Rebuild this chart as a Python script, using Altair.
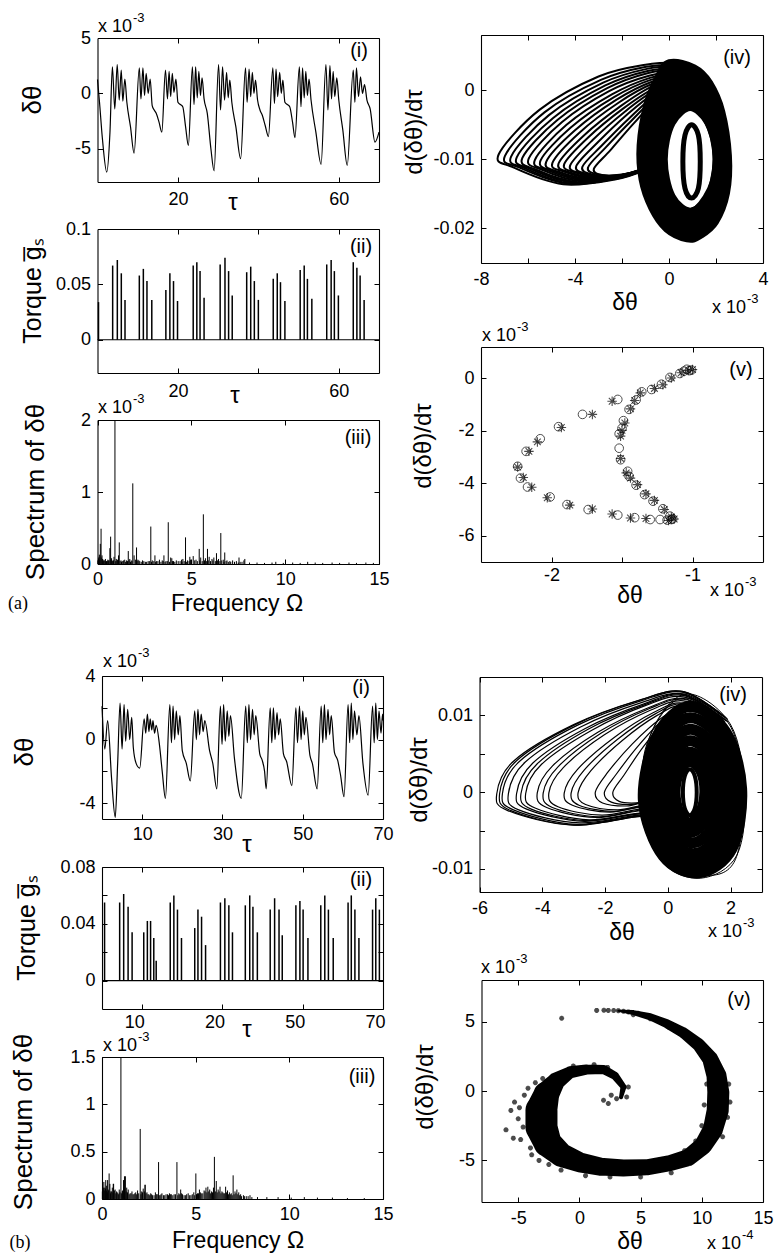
import altair as alt
import pandas as pd

W, H = 774, 1255
SANS = "Liberation Sans"
SERIF = "Liberation Serif"
INK = "#000000"

# ---------------------------------------------------------------- data (a)
# (a)(i)  tau, dtheta (x1e-3)
A_THETA = [
 (0.0,1.25),(0.5,-0.8),(1.2,-4.0),(2.3,-7.1),(3.1,-3.5),(3.7,2.4),(4.3,-1.4),(4.9,2.6),(5.4,-0.6),(5.9,2.1),(6.3,-0.7),(6.8,1.3),(7.3,-0.8),(8.2,-3.0),(9.1,-5.4),
 (10.4,2.3),(10.8,-0.5),(11.3,2.3),(11.7,-0.2),(12.1,1.8),(12.6,0.0),(13.1,1.3),(13.6,-1.1),(14.1,-1.5),(14.6,-1.8),(15.3,-2.6),(16.0,-3.5),
 (16.9,2.1),(17.4,-0.5),(17.8,2.0),(18.2,-0.3),(18.6,1.8),(19.0,0.1),(19.5,1.3),(20.0,-0.8),(20.6,-1.0),(21.2,-1.2),(21.9,-3.0),(22.6,-4.7),
 (23.6,2.4),(24.0,-1.0),(24.4,2.4),(24.8,-0.4),(25.2,2.0),(25.6,-0.2),(26.0,1.4),(26.5,-0.5),(27.3,-1.8),(28.2,-5.0),(29.0,-7.0),
 (30.1,2.6),(30.6,-1.5),(31.1,2.4),(31.6,-0.6),(32.1,1.9),(32.5,-0.4),(32.9,1.2),(33.4,-0.8),(34.4,-3.0),(35.6,-5.9),
 (36.8,2.3),(37.2,-0.8),(37.7,2.2),(38.1,-0.3),(38.5,1.9),(38.9,0.0),(39.3,1.2),(39.8,-0.6),(40.4,-1.5),(41.0,-2.0),(41.7,-2.9),(42.5,-3.9),
 (43.6,2.3),(44.0,-0.9),(44.4,2.2),(44.8,-0.3),(45.3,1.9),(45.7,0.0),(46.1,1.2),(46.6,-0.8),(47.2,-1.0),(47.8,-1.2),(48.5,-2.6),(49.1,-4.0),
 (50.2,2.4),(50.6,-1.2),(51.0,2.3),(51.4,-0.4),(51.8,2.0),(52.2,-0.2),(52.6,1.3),(53.1,-0.6),(54.3,-3.5),(55.6,-6.4),
 (56.8,2.6),(57.3,-1.5),(57.8,2.5),(58.2,-0.5),(58.6,2.0),(59.0,-0.3),(59.5,1.4),(60.0,-0.6),(61.0,-3.3),(62.1,-6.5),
 (63.6,2.1),(64.0,-0.8),(64.4,2.3),(64.9,-0.3),(65.4,1.5),(65.9,0.0),(66.4,0.8),(67.0,-0.6),(67.8,-1.4),(69.0,-4.4),(70.0,-3.5),
]
# (a)(ii) torque spikes: tau, height
A_TORQUE = [
 (0.25,0.034),(3.77,0.067),(4.93,0.072),(5.92,0.060),(6.84,0.036),(10.4,0.058),(11.4,0.064),(12.3,0.053),(13.5,0.036),
 (17.0,0.045),(18.0,0.060),(18.9,0.053),(19.9,0.035),(23.8,0.067),(24.7,0.070),(25.5,0.062),(26.5,0.038),
 (30.5,0.068),(31.7,0.074),(32.6,0.062),(33.5,0.040),(37.1,0.061),(38.1,0.066),(39.0,0.053),(40.0,0.036),
 (43.7,0.055),(44.7,0.060),(45.5,0.052),(46.6,0.035),(50.4,0.063),(51.4,0.067),(52.2,0.055),(53.3,0.037),
 (57.0,0.068),(58.1,0.072),(58.9,0.062),(59.9,0.040),(63.6,0.070),(64.5,0.065),(65.3,0.058),(66.3,0.036),
]
TORQUE_BASE = [(0, 0.0), (70, 0.0)]
# (a)(iii) spectrum: Omega, amplitude (x1e-3)
A_SPEC_PEAKS = [(0.19,0.49),(0.70,0.38),(0.93,2.0),(1.16,0.30),(1.64,0.18),(1.88,1.12),(2.08,0.23),(2.84,0.52),(3.06,0.12),
 (3.54,0.12),(3.77,0.58),(3.96,0.08),(4.48,0.06),(4.69,0.37),(4.92,0.10),(5.42,0.21),(5.64,0.69),(5.86,0.21),(6.34,0.15),
 (6.57,0.43),(6.78,0.16),(7.54,0.09),(7.80,0.05)]
A_SPEC_GRASS = [(0.05,0.08),(0.1,0.13),(0.15,0.28),(0.24,0.12),(0.3,0.06),(0.35,0.05),(0.42,0.07),(0.48,0.04),(0.55,0.06),
 (0.62,0.05),(0.66,0.22),(0.75,0.08),(0.82,0.05),(0.88,0.10),(1.0,0.07),(1.07,0.06),(1.12,0.12),(1.25,0.05),(1.32,0.04),
 (1.45,0.06),(1.55,0.05),(1.72,0.07),(1.8,0.05),(1.95,0.12),(2.15,0.06),(2.25,0.04),(2.4,0.05),(2.55,0.03),(2.7,0.04),
 (2.92,0.05),(3.15,0.04),(3.3,0.06),(3.45,0.05),(3.65,0.04),(3.9,0.09),(4.05,0.04),(4.2,0.05),(4.4,0.04),(4.55,0.07),
 (4.8,0.05),(4.95,0.06),(5.1,0.11),(5.25,0.06),(5.5,0.09),(5.75,0.08),(5.95,0.10),(6.1,0.07),(6.2,0.09),(6.45,0.07),
 (6.7,0.06),(6.9,0.05),(7.05,0.04),(7.2,0.05),(7.4,0.04),(7.7,0.03),(7.85,0.07),(8.1,0.02),(8.5,0.02),(8.9,0.015),
 (9.3,0.02),(9.5,0.03),(9.9,0.015),(10.4,0.02),(10.8,0.015),(11.2,0.03),(11.6,0.02),(12.0,0.015),(12.5,0.02),(12.9,0.015),
 (13.4,0.02),(13.8,0.015),(14.3,0.02),(14.7,0.015)]
A_SPEC_FLOOR = [(0.02,0.05),(0.08,0.10),(0.12,0.06),(0.2,0.09),(0.27,0.07),(0.33,0.04),(0.39,0.05),(0.45,0.03),(0.52,0.04),
 (0.58,0.05),(0.72,0.06),(0.79,0.04),(0.85,0.05),(0.97,0.04),(1.04,0.05),(1.2,0.04),(1.28,0.03),(1.38,0.05),(1.5,0.03),
 (1.6,0.04),(1.68,0.05),(1.76,0.03),(1.84,0.04),(2.02,0.06),(2.11,0.04),(2.2,0.05),(2.33,0.03),(2.47,0.04),(2.62,0.03),
 (2.78,0.04),(2.88,0.03),(3.0,0.04),(3.1,0.03),(3.22,0.04),(3.38,0.03),(3.5,0.04),(3.6,0.03),(3.72,0.04),(3.84,0.03),
 (4.0,0.04),(4.12,0.03),(4.3,0.04),(4.5,0.03),(4.62,0.04),(4.75,0.03),(4.88,0.04),(5.0,0.03),(5.18,0.05),(5.32,0.04),
 (5.45,0.05),(5.58,0.04),(5.7,0.05),(5.8,0.04),(5.9,0.05),(6.02,0.04),(6.15,0.05),(6.28,0.04),(6.4,0.05),(6.52,0.04),
 (6.62,0.05),(6.74,0.03),(6.85,0.04),(6.97,0.03),(7.1,0.03),(7.3,0.03),(7.5,0.02),(7.6,0.03)]
# (a)(iv) phase portrait: dtheta (x1e-3), d(dtheta)/dtau
A_LOBE = [
 [(0.5,0.0000),(-0.5,-0.0013),(-1.5,-0.0048),(-2.5,-0.0087),(-3.2,-0.0114),(-2.8,-0.0123),(-2.0,-0.0122),(-1.3,-0.0116),(-0.8,-0.0108)],
 [(0.5,0.0003),(-0.53,-0.0010),(-1.6,-0.0044),(-2.7,-0.0083),(-3.45,-0.0112),(-3.0,-0.0122),(-2.15,-0.0123),(-1.36,-0.0117),(-0.81,-0.0108)],
 [(0.5,0.0005),(-0.56,-0.0007),(-1.68,-0.0040),(-2.86,-0.0080),(-3.69,-0.0111),(-3.26,-0.0122),(-2.3,-0.0124),(-1.42,-0.0118),(-0.82,-0.0109)],
 [(0.5,0.0008),(-0.6,-0.0004),(-1.78,-0.0035),(-3.05,-0.0076),(-3.95,-0.0110),(-3.5,-0.0121),(-2.47,-0.0125),(-1.49,-0.0118),(-0.84,-0.0109)],
 [(0.5,0.0010),(-0.63,-0.0001),(-1.88,-0.0031),(-3.25,-0.0072),(-4.21,-0.0109),(-3.75,-0.0120),(-2.63,-0.0126),(-1.55,-0.0119),(-0.85,-0.0110)],
 [(0.5,0.0012),(-0.66,0.0002),(-1.97,-0.0027),(-3.43,-0.0068),(-4.46,-0.0107),(-3.98,-0.0119),(-2.78,-0.0126),(-1.61,-0.0120),(-0.86,-0.0110)],
 [(0.5,0.0015),(-0.69,0.0006),(-2.06,-0.0023),(-3.61,-0.0065),(-4.70,-0.0106),(-4.21,-0.0119),(-2.93,-0.0127),(-1.67,-0.0121),(-0.87,-0.0111)],
 [(0.5,0.0017),(-0.72,0.0009),(-2.15,-0.0018),(-3.8,-0.0061),(-4.96,-0.0105),(-4.45,-0.0118),(-3.09,-0.0128),(-1.73,-0.0122),(-0.88,-0.0111)],
 [(0.5,0.0020),(-0.75,0.0012),(-2.25,-0.0014),(-4.00,-0.0058),(-5.23,-0.0104),(-4.70,-0.0118),(-3.25,-0.0129),(-1.80,-0.0123),(-0.90,-0.0112)],
 [(0.5,0.0022),(-0.78,0.0015),(-2.34,-0.0010),(-4.18,-0.0054),(-5.47,-0.0102),(-4.93,-0.0117),(-3.4,-0.0130),(-1.86,-0.0123),(-0.91,-0.0112)],
 [(0.5,0.0025),(-0.81,0.0018),(-2.43,-0.0006),(-4.36,-0.0050),(-5.71,-0.0101),(-5.16,-0.0116),(-3.55,-0.0131),(-1.92,-0.0124),(-0.92,-0.0112)],
 [(0.5,0.0027),(-0.85,0.0021),(-2.53,-0.0001),(-4.55,-0.0046),(-5.97,-0.0099),(-5.4,-0.0115),(-3.71,-0.0132),(-1.98,-0.0125),(-0.93,-0.0112)],
 [(0.5,0.0030),(-0.88,0.0025),(-2.63,0.0003),(-4.75,-0.0043),(-6.24,-0.0098),(-5.65,-0.0115),(-3.88,-0.0133),(-2.05,-0.0126),(-0.95,-0.0113)],
 [(0.5,0.0032),(-0.91,0.0028),(-2.71,0.0007),(-4.93,-0.0040),(-6.48,-0.0097),(-5.88,-0.0114),(-4.03,-0.0134),(-2.11,-0.0126),(-0.96,-0.0113)],
 [(0.5,0.0035),(-0.94,0.0031),(-2.80,0.0011),(-5.11,-0.0036),(-6.72,-0.0096),(-6.11,-0.0113),(-4.18,-0.0135),(-2.17,-0.0127),(-0.97,-0.0114)],
 [(0.5,0.0037),(-0.97,0.0034),(-2.9,0.0015),(-5.3,-0.0032),(-6.98,-0.0095),(-6.35,-0.0112),(-4.34,-0.0135),(-2.23,-0.0128),(-0.98,-0.0114)],
 [(0.5,0.0040),(-1.00,0.0037),(-3.00,0.0020),(-5.50,-0.0028),(-7.25,-0.0093),(-6.60,-0.0112),(-4.50,-0.0136),(-2.30,-0.0129),(-1.00,-0.0115)],
]
A_RING = [
 [(0.06,0.0035),(1.0,0.0028),(1.6,0.0008),(2.1,-0.0032),(2.38,-0.0095),(2.3,-0.0148),(1.85,-0.0188),(1.25,-0.0206),(0.8,-0.0210),
  (0.0,-0.0197),(-0.6,-0.0168),(-1.0,-0.0128),(-1.08,-0.0080),(-0.8,-0.0022),(-0.35,0.0015)],
 [(0.3,0.0018),(1.2,0.0010),(1.8,-0.0015),(2.25,-0.0070),(2.3,-0.0125),(1.95,-0.0175),(1.2,-0.0200),(0.4,-0.0193),(-0.3,-0.0160),
  (-0.85,-0.0110),(-0.95,-0.0065),(-0.6,-0.0015)],
 [(0.5,0.0005),(1.4,-0.0012),(2.1,-0.0065),(2.2,-0.0118),(1.85,-0.0165),(1.0,-0.0192),(0.2,-0.0182),(-0.5,-0.0140),(-0.68,-0.0090),(-0.4,-0.0035)],
 [(0.7,-0.0012),(1.55,-0.0030),(2.12,-0.0080),(2.02,-0.0135),(1.3,-0.0175),(0.6,-0.0180),(-0.1,-0.0160),(-0.45,-0.0110),(-0.35,-0.0060),(0.1,-0.0025)],
 [(0.9,-0.0020),(1.8,-0.0045),(2.15,-0.0100),(1.8,-0.0156),(0.9,-0.0180),(0.0,-0.0156),(-0.35,-0.0100),(0.0,-0.0045)],
]
A_CORE = [[(0.96,-0.0050),(1.25,-0.0065),(1.33,-0.0103),(1.25,-0.0142),(0.96,-0.0156),(0.68,-0.0142),(0.59,-0.0103),(0.68,-0.0065)]]
# (a)(v) section points: dtheta (x1e-3), d(dtheta)/dtau (x1e-3)
A_V_CIRC = [(-1.007,0.32),(-1.04,0.35),(-1.02,0.30),(-1.06,0.28),(-1.09,0.19),(-1.16,0.04),(-1.22,-0.22),(-1.29,-0.42),(-1.36,-0.51),
 (-1.40,-0.82),(-1.45,-1.18),(-1.49,-1.61),(-1.50,-1.90),(-1.52,-2.11),(-1.52,-2.66),(-1.51,-3.10),(-1.46,-3.54),(-1.45,-3.73),
 (-1.40,-4.07),(-1.34,-4.43),(-1.28,-4.68),(-1.21,-4.97),(-1.16,-5.25),(-1.14,-5.35),(-1.15,-5.38),(-1.18,-5.40),(-1.23,-5.38),
 (-1.30,-5.38),(-1.41,-5.31),(-1.53,-5.21),(-1.74,-5.00),(-1.89,-4.81),(-2.01,-4.52),(-2.17,-4.14),(-2.22,-3.80),(-2.24,-3.35),
 (-2.18,-2.78),(-2.08,-2.30),(-1.95,-1.84),(-1.78,-1.37),(-1.53,-0.80)]
A_V_STAR = [(-1.00,0.34),(-1.03,0.30),(-1.08,0.22),(-1.15,0.02),(-1.21,-0.24),(-1.27,-0.38),(-1.37,-0.55),(-1.41,-0.84),(-1.44,-1.16),
 (-1.48,-1.70),(-1.50,-1.98),(-1.51,-2.20),(-1.51,-3.05),(-1.47,-3.60),(-1.44,-3.80),(-1.39,-4.05),(-1.33,-4.40),(-1.27,-4.65),
 (-1.20,-5.00),(-1.15,-5.28),(-1.13,-5.36),(-1.17,-5.42),(-1.33,-5.34),(-1.44,-5.32),(-1.57,-5.17),(-1.71,-4.98),(-1.87,-4.83),
 (-2.03,-4.55),(-2.14,-4.15),(-2.20,-3.78),(-2.24,-3.38),(-2.16,-2.78),(-2.10,-2.42),(-1.93,-1.87),(-1.71,-1.37),(-1.57,-0.87)]

# ---------------------------------------------------------------- data (b)
B_THETA = [
 (0.0,2.1),(0.7,-0.6),(1.4,1.2),(2.4,-2.5),(3.3,-4.9),(3.9,-1.5),
 (4.5,2.3),(5.0,-0.6),(5.5,2.2),(5.9,-0.1),(6.4,1.9),(6.9,0.0),(7.4,1.4),(7.8,-0.5),(8.5,-1.5),(9.4,-1.8),
 (10.5,1.3),(10.9,0.4),(11.3,1.6),(11.7,0.5),(12.0,1.3),(12.4,0.6),(12.7,1.2),(13.1,0.4),(13.5,0.9),(14.3,-0.3),(15.0,-2.0),(15.8,-3.7),
 (16.9,2.2),(17.3,-0.2),(17.7,2.1),(18.1,0.0),(18.5,1.8),(19.0,0.3),(19.4,1.5),(20.0,-0.7),(21.0,-1.5),(22.0,-2.6),
 (23.1,1.8),(23.5,0.0),(23.9,1.9),(24.3,0.3),(24.7,1.6),(25.2,0.5),(25.6,1.2),(26.8,-0.7),(27.6,-1.5),(28.6,-3.1),
 (29.5,2.1),(29.9,-0.3),(30.3,2.2),(30.7,-0.1),(31.2,1.8),(31.6,0.2),(32.0,1.5),(33.0,-1.2),(34.7,-3.7),
 (35.8,2.1),(36.2,-0.2),(36.6,2.2),(37.0,0.0),(37.5,1.9),(37.9,0.3),(38.3,1.5),(39.3,-0.9),(39.9,-1.3),(40.5,-2.0),(40.9,-3.1),
 (41.9,2.0),(42.3,-0.2),(42.7,2.0),(43.1,0.0),(43.6,1.7),(44.0,0.3),(44.4,1.3),(45.2,-0.9),(46.0,-1.4),(47.3,-2.9),
 (48.3,2.0),(48.7,-0.2),(49.2,2.1),(49.6,0.0),(50.0,1.8),(50.4,0.3),(50.8,1.4),(51.8,-1.0),(52.4,-1.5),(53.6,-3.1),
 (54.6,2.1),(55.0,-0.2),(55.4,2.2),(55.8,0.0),(56.3,1.9),(56.7,0.3),(57.1,1.5),(57.9,-0.8),(58.7,-1.3),(59.4,-2.2),(60.3,-3.6),
 (61.3,2.2),(61.7,-0.2),(62.1,2.3),(62.5,0.0),(62.9,1.8),(63.5,0.3),(64.0,1.5),(65.0,-1.5),(66.3,-3.5),
 (67.4,2.1),(67.8,-0.2),(68.2,2.3),(68.6,0.0),(69.0,1.8),(69.5,0.4),(69.9,1.6),(70.0,1.2),
]
B_TORQUE = [
 (0.64,0.055),(4.4,0.055),(5.4,0.061),(6.5,0.052),(7.5,0.034),(10.4,0.034),(11.3,0.042),(12.1,0.042),(12.9,0.030),(13.5,0.014),
 (17.0,0.055),(17.9,0.060),(18.8,0.050),(19.8,0.030),(23.1,0.037),(23.9,0.050),(24.8,0.045),(25.8,0.025),
 (29.5,0.055),(30.6,0.058),(31.6,0.053),(32.5,0.034),(35.7,0.053),(36.8,0.060),(37.6,0.052),(38.7,0.034),
 (41.9,0.050),(43.0,0.058),(44.1,0.050),(44.9,0.032),(48.3,0.053),(49.3,0.056),(50.1,0.050),(51.3,0.030),
 (54.5,0.053),(55.5,0.060),(56.4,0.050),(57.6,0.030),(61.3,0.055),(62.1,0.060),(63.0,0.050),(64.0,0.030),
 (67.4,0.050),(68.2,0.058),(69.1,0.050),
]
B_SPEC_PEAKS = [(0.30,0.20),(0.38,0.27),(0.60,0.16),(1.01,1.5),(1.20,0.24),(2.04,0.74),(2.30,0.15),(3.02,0.39),(4.00,0.39),
 (5.01,0.27),(6.00,0.445),(6.60,0.13),(7.00,0.25)]
B_SPEC_GRASS = [(0.05,0.1),(0.1,0.18),(0.15,0.12),(0.2,0.2),(0.25,0.14),(0.33,0.1),(0.42,0.16),(0.47,0.08),(0.55,0.12),(0.62,0.16),
 (0.7,0.1),(0.78,0.08),(0.85,0.06),(0.92,0.1),(1.08,0.08),(1.15,0.2),(1.25,0.24),(1.32,0.12),(1.4,0.1),(1.5,0.06),(1.6,0.08),
 (1.7,0.05),(1.8,0.07),(1.9,0.09),(2.12,0.08),(2.2,0.11),(2.3,0.15),(2.4,0.07),(2.5,0.05),(2.6,0.06),(2.7,0.04),(2.85,0.07),
 (2.95,0.05),(3.1,0.04),(3.2,0.06),(3.35,0.04),(3.5,0.05),(3.6,0.06),(3.7,0.05),(3.85,0.05),(4.1,0.06),(4.2,0.1),(4.3,0.05),
 (4.45,0.04),(4.6,0.06),(4.75,0.04),(4.9,0.07),(5.1,0.06),(5.2,0.1),(5.3,0.06),(5.45,0.09),(5.55,0.12),(5.65,0.13),(5.75,0.1),
 (5.85,0.08),(5.95,0.12),(6.1,0.19),(6.2,0.1),(6.3,0.13),(6.4,0.08),(6.5,0.06),(6.7,0.09),(6.8,0.07),(6.9,0.06),(7.1,0.08),
 (7.2,0.1),(7.3,0.07),(7.4,0.05),(7.55,0.04),(7.7,0.03),(7.9,0.04),(8.3,0.02),(8.8,0.02),(9.4,0.02),(10.1,0.015),(10.8,0.02),
 (11.5,0.015),(12.3,0.015),(13.1,0.01),(14.0,0.01)]
B_SPEC_FLOOR = [(0.02,0.08),(0.07,0.12),(0.12,0.09),(0.18,0.11),(0.23,0.09),(0.28,0.07),(0.36,0.09),(0.45,0.06),(0.5,0.08),
 (0.58,0.07),(0.66,0.09),(0.74,0.06),(0.81,0.07),(0.89,0.05),(0.96,0.07),(1.05,0.06),(1.1,0.09),(1.18,0.11),(1.29,0.08),
 (1.36,0.07),(1.45,0.05),(1.55,0.06),(1.65,0.05),(1.75,0.06),(1.85,0.05),(1.96,0.06),(2.08,0.05),(2.16,0.07),(2.26,0.08),
 (2.35,0.06),(2.45,0.05),(2.55,0.04),(2.65,0.05),(2.78,0.04),(2.9,0.05),(3.05,0.04),(3.15,0.05),(3.28,0.04),(3.42,0.05),
 (3.55,0.04),(3.65,0.05),(3.78,0.04),(3.92,0.05),(4.05,0.04),(4.15,0.05),(4.25,0.06),(4.38,0.04),(4.52,0.05),(4.68,0.04),
 (4.82,0.05),(4.95,0.04),(5.05,0.05),(5.15,0.06),(5.25,0.07),(5.38,0.06),(5.5,0.08),(5.6,0.07),(5.7,0.08),(5.8,0.06),
 (5.9,0.07),(6.05,0.08),(6.15,0.07),(6.25,0.08),(6.35,0.06),(6.45,0.07),(6.55,0.06),(6.65,0.07),(6.75,0.05),(6.85,0.05),
 (6.95,0.04),(7.05,0.05),(7.15,0.06),(7.25,0.05),(7.35,0.04),(7.45,0.03),(7.6,0.03),(7.8,0.03),(8.0,0.02)]
B_LOBE = [
 [(1.5,0.0100),(0.5,0.0105),(-0.1,0.0092),(-0.8,0.0058),(-1.4,0.0022),(-1.75,0.0000),(-1.55,-0.0012),(-1.0,-0.0014),(-0.4,-0.0010),(0.3,-0.0040)],
 [(1.55,0.0099),(0.5,0.0107),(-0.16,0.0094),(-0.95,0.0060),(-1.65,0.0023),(-2.02,0.0000),(-1.8,-0.0013),(-1.15,-0.0016),(-0.4,-0.0011),(0.32,-0.0042)],
 [(1.6,0.0098),(0.5,0.0109),(-0.22,0.0096),(-1.13,0.0063),(-1.93,0.0025),(-2.31,0.0000),(-2.08,-0.0014),(-1.3,-0.0018),(-0.4,-0.0013),(0.35,-0.0045)],
 [(1.7,0.0095),(0.5,0.0113),(-0.34,0.0100),(-1.46,0.0067),(-2.45,0.0028),(-2.86,-0.0001),(-2.62,-0.0016),(-1.6,-0.0023),(-0.4,-0.0017),(0.4,-0.0050)],
 [(1.75,0.0094),(0.5,0.0115),(-0.4,0.0102),(-1.6,0.0069),(-2.66,0.0029),(-3.08,-0.0001),(-2.83,-0.0017),(-1.72,-0.0025),(-0.4,-0.0018),(0.42,-0.0052)],
 [(1.8,0.0092),(0.5,0.0116),(-0.44,0.0104),(-1.72,0.0071),(-2.87,0.0030),(-3.30,-0.0001),(-3.04,-0.0017),(-1.84,-0.0026),(-0.4,-0.0019),(0.45,-0.0055)],
 [(1.6,0.0100),(0.5,0.0119),(-0.54,0.0107),(-2.01,0.0075),(-3.33,0.0032),(-3.79,-0.0001),(-3.50,-0.0019),(-2.10,-0.0030),(-0.4,-0.0022),(0.3,-0.0060)],
 [(1.65,0.0099),(0.5,0.0121),(-0.58,0.0109),(-2.12,0.0077),(-3.5,0.0033),(-3.97,-0.0001),(-3.68,-0.0020),(-2.2,-0.0032),(-0.4,-0.0023),(0.33,-0.0061)],
 [(1.7,0.0098),(0.5,0.0122),(-0.62,0.0110),(-2.23,0.0078),(-3.68,0.0034),(-4.16,-0.0001),(-3.86,-0.0020),(-2.30,-0.0033),(-0.4,-0.0024),(0.35,-0.0062)],
 [(1.8,0.0095),(0.5,0.0124),(-0.70,0.0113),(-2.45,0.0080),(-4.03,0.0036),(-4.53,-0.0002),(-4.21,-0.0021),(-2.50,-0.0036),(-0.4,-0.0027),(0.4,-0.0065)],
 [(1.85,0.0093),(0.5,0.0126),(-0.73,0.0114),(-2.54,0.0082),(-4.16,0.0037),(-4.68,-0.0002),(-4.35,-0.0022),(-2.58,-0.0037),(-0.4,-0.0028),(0.42,-0.0066)],
 [(1.9,0.0092),(0.5,0.0127),(-0.76,0.0115),(-2.63,0.0083),(-4.30,0.0038),(-4.82,-0.0002),(-4.50,-0.0022),(-2.66,-0.0038),(-0.4,-0.0028),(0.45,-0.0068)],
 [(1.7,0.0100),(0.5,0.0128),(-0.82,0.0117),(-2.78,0.0085),(-4.55,0.0039),(-5.08,-0.0002),(-4.75,-0.0023),(-2.80,-0.0040),(-0.4,-0.0030),(0.5,-0.0070)],
 [(1.8,0.0098),(0.5,0.0130),(-0.86,0.0119),(-2.89,0.0087),(-4.73,0.0040),(-5.27,-0.0002),(-4.92,-0.0023),(-2.90,-0.0042),(-0.4,-0.0031),(0.4,-0.0072)],
 [(1.85,0.0097),(0.5,0.0131),(-0.88,0.0120),(-2.95,0.0088),(-4.82,0.0041),(-5.36,-0.0002),(-5.0,-0.0024),(-2.95,-0.0043),(-0.4,-0.0032),(0.42,-0.0074)],
 [(1.9,0.0095),(0.5,0.0131),(-0.90,0.0120),(-3.00,0.0088),(-4.90,0.0041),(-5.45,-0.0002),(-5.10,-0.0024),(-3.00,-0.0043),(-0.4,-0.0032),(0.45,-0.0075)],
]
B_RING = [
 [(0.7,0.0112),(1.85,0.0078),(2.35,0.0005),(2.05,-0.0073),(1.0,-0.0105),(-0.15,-0.0083),(-0.78,-0.0010),(-0.35,0.0073)],
 [(0.7,0.0097),(1.7,0.0068),(2.15,0.0003),(1.85,-0.0064),(0.9,-0.0093),(-0.05,-0.0072),(-0.55,-0.0005),(-0.2,0.0064)],
 [(0.7,0.0082),(1.52,0.0057),(1.9,0.0002),(1.62,-0.0055),(0.85,-0.0080),(0.05,-0.0060),(-0.33,0.0000),(-0.05,0.0054)],
 [(0.7,0.0067),(1.35,0.0047),(1.65,0.0000),(1.42,-0.0046),(0.8,-0.0066),(0.18,-0.0048),(-0.1,0.0000),(0.12,0.0045)],
 [(0.7,0.0052),(1.2,0.0036),(1.42,0.0000),(1.2,-0.0036),(0.74,-0.0052),(0.27,-0.0037),(0.06,0.0000),(0.24,0.0036)],
 [(0.7,0.0040),(1.05,0.0028),(1.18,0.0000),(1.03,-0.0027),(0.7,-0.0040),(0.38,-0.0028),(0.23,0.0000),(0.38,0.0028)],
]
B_CORE = [[(0.7,0.0030),(0.86,0.0021),(0.92,0.0000),(0.86,-0.0021),(0.7,-0.0030),(0.54,-0.0021),(0.48,0.0000),(0.54,0.0021)]]
B_EDGE = [[(0.6,0.0128),(2.0,0.0088),(2.45,0.0000),(2.2,-0.0082),(1.05,-0.0112),(-0.2,-0.0090),(-0.9,-0.0015),(-0.5,0.0080)],
          [(0.4,0.0122),(1.9,0.0092),(2.4,0.0010),(2.15,-0.0088),(1.1,-0.0108),(-0.3,-0.0080),(-0.8,0.0005),(-0.6,0.0070)]]
# (b)(v) dense section: backbone (dtheta x1e-4, rate x1e-3, band width px) and loose points
B_V_BAND = [(3.18,5.78,2),(4.41,5.65,5),(5.78,5.35,7),(7.14,4.85,9),(8.5,4.2,11),(9.73,3.35,13),(10.69,2.3,16),(11.2,1.1,20),
 (11.35,-0.1,22),(11.3,-1.4,22),(10.9,-2.8,20),(10.1,-3.95,18),(8.9,-4.8,17),(7.4,-5.2,16),(5.5,-5.5,16),(3.6,-5.55,17),
 (1.7,-5.45,18),(0.06,-5.15,20),(-1.5,-4.6,24),(-2.6,-3.75,28),(-3.1,-2.6,32),(-3.1,-1.4,32),(-2.7,-0.25,26),(-1.9,0.7,18),
 (-0.75,1.35,12),(0.6,1.55,10),(1.97,1.55,9),(2.9,1.1,8),(3.6,0.3,6),(3.4,-0.45,4)]
B_V_STARS = [(-1.45,5.24),(1.41,5.81),(2.0,5.82),(2.36,5.81),(2.8,5.8),(3.18,5.79),(3.6,5.75),(4.0,5.7),(4.4,5.5),(4.8,5.6),
 (5.3,5.45),(5.8,5.2),(6.3,5.2),(6.8,4.9),(7.3,4.6),(7.9,4.5),(8.4,4.0),(8.9,3.9),(9.4,3.3),(10.0,3.1),(10.4,2.4),(11.0,2.2),
 (11.5,1.0),(12.2,0.5),(12.3,-0.8),(12.1,-1.9),(10.2,-1.0),(10.4,0.5),(10.0,-2.5),(9.5,-3.6),(8.6,-4.3),(11.7,-3.3),
 (-6.0,-2.8),(-5.6,-1.4),(-5.3,-0.8),(-5.0,-2.0),(-4.8,-3.5),(-4.5,-0.3),(-4.6,-2.6),(-4.2,0.2),(-4.0,-4.1),(-3.6,0.6),
 (-5.4,-3.4),(-4.9,-1.2),(-3.9,-4.6),(-3.3,-5.0),(-2.5,-5.3),(-1.5,-5.7),(-3.0,0.9),(1.97,-0.67),(2.36,-0.9),(3.04,-0.55),
 (3.86,-0.43),(4.0,0.29),(2.6,-0.3),(0.5,-6.1),(2.5,-6.2),(5.0,-6.2),(7.5,-5.9),(-0.5,1.8),(1.2,1.9),(2.3,1.7)]

# ---------------------------------------------------------------- panel geometry
PANELS = {
 'ai':   dict(xd=[0, 70], yd=[-8, 5], xr=[97.5, 379], yr=[182, 38], xt=[20, 40, 60], xl={20: '20', 60: '60'},
              yt=[-5, 0, 5], yl={-5: '-5', 0: '0', 5: '5'}, xpad=8),
 'aii':  dict(xd=[0, 70], yd=[-0.03, 0.1], xr=[97.5, 379], yr=[373, 229], xt=[20, 40, 60], xl={20: '20', 60: '60'},
              yt=[0, 0.05, 0.1], yl={0: '0', 0.05: '0.05', 0.1: '0.1'}, xpad=9),
 'aiii': dict(xd=[0, 15], yd=[0, 2], xr=[97.5, 379], yr=[564, 420], xt=[0, 5, 10, 15], xl={0: '0', 5: '5', 10: '10', 15: '15'},
              yt=[0, 1, 2], yl={0: '0', 1: '1', 2: '2'}, xpad=6),
 'aiv':  dict(xd=[-8, 4], yd=[-0.025, 0.008], xr=[481, 763], yr=[263, 35], xt=[-8, -6, -4, -2, 0, 2, 4],
              xl={-8: '-8', -4: '-4', 0: '0', 4: '4'}, yt=[-0.02, -0.01, 0], yl={-0.02: '-0.02', -0.01: '-0.01', 0: '0'}, xpad=7),
 'av':   dict(xd=[-2.5, -0.5], yd=[-7, 1.2], xr=[481, 763], yr=[562, 347], xt=[-2, -1.5, -1], xl={-2: '-2', -1: '-1'},
              yt=[-6, -4, -2, 0], yl={-6: '-6', -4: '-4', -2: '-2', 0: '0'}, xpad=4),
 'bi':   dict(xd=[0, 70], yd=[-5, 4], xr=[102, 383], yr=[819, 676], xt=[10, 30, 50, 70],
              xl={10: '10', 30: '30', 50: '50', 70: '70'}, yt=[-4, -2, 0, 2, 4], yl={-4: '-4', 0: '0', 4: '4'}, xpad=6),
 'bii':  dict(xd=[0, 70], yd=[-0.02, 0.08], xr=[102, 383], yr=[1009, 867], xt=[10, 30, 50, 70],
              xl={10: '10', 30: '20', 50: '50', 70: '70'}, yt=[0, 0.02, 0.04, 0.06, 0.08],
              yl={0: '0', 0.04: '0.04', 0.08: '0.08'}, xpad=4, xoff=-8),
 'biii': dict(xd=[0, 15], yd=[0, 1.5], xr=[102, 383], yr=[1199, 1057], xt=[0, 5, 10, 15], xl={0: '0', 5: '5', 10: '10', 15: '15'},
              yt=[0, 0.5, 1, 1.5], yl={0: '0', 0.5: '0.5', 1: '1', 1.5: '1.5'}, xpad=6),
 'biv':  dict(xd=[-6, 3], yd=[-0.013, 0.015], xr=[479.5, 762], yr=[892, 677], xt=[-6, -4, -2, 0, 2],
              xl={-6: '-6', -4: '-4', -2: '-2', 0: '0', 2: '2'}, yt=[-0.01, -0.005, 0, 0.005, 0.01],
              yl={-0.01: '-0.01', 0: '0', 0.01: '0.01'}, xpad=7),
 'bv':   dict(xd=[-8, 15], yd=[-8, 8], xr=[481.5, 763], yr=[1202, 980], xt=[-5, 0, 5, 10, 15],
              xl={-5: '-5', 0: '0', 5: '5', 10: '10', 15: '15'}, yt=[-5, 0, 5], yl={-5: '-5', 0: '0', 5: '5'}, xpad=7),
}

TICK_FS = 18
TITLE_FS = 26
PANEL_FS = 20
RATE_FS = 24


def lab_expr(d):
    parts = [f"abs(datum.value - ({v})) < 1e-9 ? '{s}'" for v, s in d.items()]
    return " : ".join(parts) + " : ''"


def scales(p):
    xs = alt.Scale(domain=p['xd'], range=p['xr'], nice=False, zero=False)
    ys = alt.Scale(domain=p['yd'], range=p['yr'], nice=False, zero=False)
    return xs, ys


def axis_layers(p):
    xs, ys = scales(p)
    base = alt.Chart(pd.DataFrame({'x': p['xd'], 'y': p['yd']})).mark_point(opacity=0)
    common = dict(grid=False, domainColor=INK, domainWidth=1.1, tickColor=INK, tickWidth=1,
                  labelFont=SANS, labelFontSize=TICK_FS, labelColor=INK, labelOverlap=False,
                  labelFlush=False, title=None)
    xlab = dict(orient='bottom', offset=p['yr'][0] - H, values=p['xt'], labelExpr=lab_expr(p['xl']),
                ticks=False, labelPadding=p['xpad'])
    if 'xoff' in p:
        xlab['labelOffset'] = p['xoff']
    a = base.encode(
        x=alt.X('x:Q', scale=xs, axis=alt.Axis(**xlab, **common)),
        y=alt.Y('y:Q', scale=ys, axis=alt.Axis(orient='left', offset=-p['xr'][0], values=p['yt'],
                                                 labelExpr=lab_expr(p['yl']), ticks=False, labelPadding=7, **common)))
    b = base.encode(
        x=alt.X('x:Q', scale=xs, axis=alt.Axis(orient='top', offset=-p['yr'][0], values=p['xt'],
                                                 labels=False, domain=False, tickSize=5, **common)),
        y=alt.Y('y:Q', scale=ys, axis=alt.Axis(orient='right', offset=p['xr'][0] - W, values=p['yt'],
                                                 labels=False, domain=False, tickSize=5, **common)))
    c = base.encode(
        x=alt.X('x:Q', scale=xs, axis=alt.Axis(orient='bottom', offset=p['yr'][1] - H, values=p['xt'],
                                                 labels=False, tickSize=5, **common)),
        y=alt.Y('y:Q', scale=ys, axis=alt.Axis(orient='left', offset=-p['xr'][1], values=p['yt'],
                                                 labels=False, tickSize=5, **common)))
    return [a, b, c]


def xy(p, xf='x', yf='y'):
    xs, ys = scales(p)
    return dict(x=alt.X(f'{xf}:Q', scale=xs, axis=None), y=alt.Y(f'{yf}:Q', scale=ys, axis=None))


def pairs_df(pts):
    return pd.DataFrame(pts, columns=['x', 'y'])


def loops_df(loops):
    rows = []
    for k, pts in enumerate(loops):
        for j, (x, y) in enumerate(pts):
            rows.append({'x': x, 'y': y, 'k': k, 'o': j})
    return pd.DataFrame(rows)


def series(p, pts, width=1.2):
    return alt.Chart(pairs_df(pts)).mark_line(color=INK, strokeWidth=width, interpolate='monotone').encode(**xy(p))


def sticks(p, pts, width=1.0, color=INK):
    df = pairs_df(pts)
    df['z'] = 0.0
    e = xy(p)
    return alt.Chart(df).mark_rule(color=color, strokeWidth=width).encode(x=e['x'], y=e['y'], y2='z:Q')


def loops(p, lps, width, closed, color=INK, opacity=1.0):
    interp = 'cardinal-closed' if closed else 'cardinal'
    return alt.Chart(loops_df(lps)).mark_line(color=color, strokeWidth=width, interpolate=interp,
                                              opacity=opacity, strokeJoin='round', strokeCap='round').encode(
        **xy(p), detail='k:N', order='o:Q')


ONE = pd.DataFrame({'k': [0]})


def txt(s, x, y, size=TICK_FS, align='center', angle=0, font=SANS, baseline='alphabetic'):
    return alt.Chart(ONE).mark_text(text=s, fontSize=size, align=align, baseline=baseline, angle=angle,
                                    font=font, color=INK).encode(x=alt.value(x), y=alt.value(y))


def ytitle(s, x, y, size=TITLE_FS):
    return txt(s, x, y, size=size, angle=270, baseline='middle')


def sci(x, y, e='-3'):
    return [txt('x 10', x, y, align='left'), txt(e, x + 35, y - 10, size=13, align='left')]


ASTER = "M0,-1L0,1M-1,0L1,0M-0.7,-0.7L0.7,0.7M-0.7,0.7L0.7,-0.7"
TORQUE = "Torque g\u0305\u209b"

L = []
P = PANELS
# ---- (a)
L += axis_layers(P['ai']) + [series(P['ai'], A_THETA)]
L += axis_layers(P['aii']) + [series(P['aii'], TORQUE_BASE), sticks(P['aii'], A_TORQUE, 1.5)]
L += axis_layers(P['aiii']) + [sticks(P['aiii'], A_SPEC_FLOOR, 1.0), sticks(P['aiii'], A_SPEC_GRASS, 1.0),
                               sticks(P['aiii'], A_SPEC_PEAKS, 1.0)]
L += axis_layers(P['aiv']) + [loops(P['aiv'], A_RING, 14, True), loops(P['aiv'], A_CORE, 5, True),
                              loops(P['aiv'], A_LOBE, 2.0, False)]
L += axis_layers(P['av']) + [
    alt.Chart(pairs_df(A_V_CIRC)).mark_point(shape='circle', size=75, filled=False, color=INK, strokeWidth=1.0).encode(**xy(P['av'])),
    alt.Chart(pairs_df(A_V_STAR)).mark_point(shape=ASTER, size=90, filled=False, color=INK, strokeWidth=1.1).encode(**xy(P['av'])),
]
# ---- (b)
L += axis_layers(P['bi']) + [series(P['bi'], B_THETA)]
L += axis_layers(P['bii']) + [series(P['bii'], TORQUE_BASE), sticks(P['bii'], B_TORQUE, 1.5)]
L += axis_layers(P['biii']) + [sticks(P['biii'], B_SPEC_FLOOR, 1.0), sticks(P['biii'], B_SPEC_GRASS, 1.0),
                               sticks(P['biii'], B_SPEC_PEAKS, 1.0)]
L += axis_layers(P['biv']) + [loops(P['biv'], B_RING, 11, True), loops(P['biv'], B_CORE, 4, True),
                              loops(P['biv'], B_EDGE, 1.0, True), loops(P['biv'], B_LOBE, 1.2, False)]
bv_band = pd.DataFrame(B_V_BAND, columns=['x', 'y', 'w'])
bv_band['o'] = range(len(bv_band))
L += axis_layers(P['bv']) + [
    alt.Chart(bv_band).mark_trail(color=INK).encode(
        **xy(P['bv']), size=alt.Size('w:Q', scale=None, legend=None), order='o:Q'),
    alt.Chart(pairs_df(B_V_STARS)).mark_point(shape=ASTER, size=25, filled=False, color=INK, strokeWidth=1.6).encode(**xy(P['bv'])),
]

# ---- text
L += [
    txt('(i)', 359, 57, PANEL_FS), txt('(ii)', 361, 253, PANEL_FS), txt('(iii)', 358, 444, PANEL_FS),
    txt('(iv)', 737, 64, PANEL_FS), txt('(v)', 741, 376, PANEL_FS),
    ytitle('δθ', 33, 100), ytitle(TORQUE, 33, 291, 25), ytitle('Spectrum of δθ', 36, 492),
    txt('τ', 233, 210, 24), txt('τ', 235, 403, 24), txt('Frequency Ω', 237, 611, 23),
    txt('(a)', 18, 609, 18, font=SERIF),
    ytitle('d(δθ)/dτ', 415, 132, RATE_FS), txt('δθ', 625, 310, 23),
    ytitle('d(δθ)/dτ', 424, 446, RATE_FS), txt('δθ', 630, 603, 23),
    txt('(i)', 361, 694, PANEL_FS), txt('(ii)', 361, 886, PANEL_FS), txt('(iii)', 362, 1083, PANEL_FS),
    txt('(iv)', 733, 701, PANEL_FS), txt('(v)', 739, 1006, PANEL_FS),
    ytitle('δθ', 25, 752), ytitle(TORQUE, 27, 928, 25), ytitle('Spectrum of δθ', 24, 1122),
    txt('τ', 247, 852, 24), txt('τ', 247, 1037, 24), txt('Frequency  Ω', 238, 1248, 23),
    txt('(b)', 20, 1248, 18, font=SERIF),
    ytitle('d(δθ)/dτ', 420, 780, RATE_FS), txt('δθ', 622, 940, 23),
    ytitle('d(δθ)/dτ', 426, 1087, RATE_FS), txt('δθ', 630, 1249, 23),
]
L += sci(98, 32) + sci(98, 413) + sci(712, 313) + sci(482, 341) + sci(710, 596)
L += sci(103, 667) + sci(103, 1051) + sci(708, 937) + sci(481, 973) + sci(707, 1249, '-4')

chart = alt.layer(*L).resolve_scale(x='independent', y='independent').properties(
    width=W, height=H, autosize=alt.AutoSizeParams(type='none'), padding=0, background='white'
).configure_view(strokeWidth=0)

chart.save("out.html", embed_options={"renderer": "svg", "actions": False})
